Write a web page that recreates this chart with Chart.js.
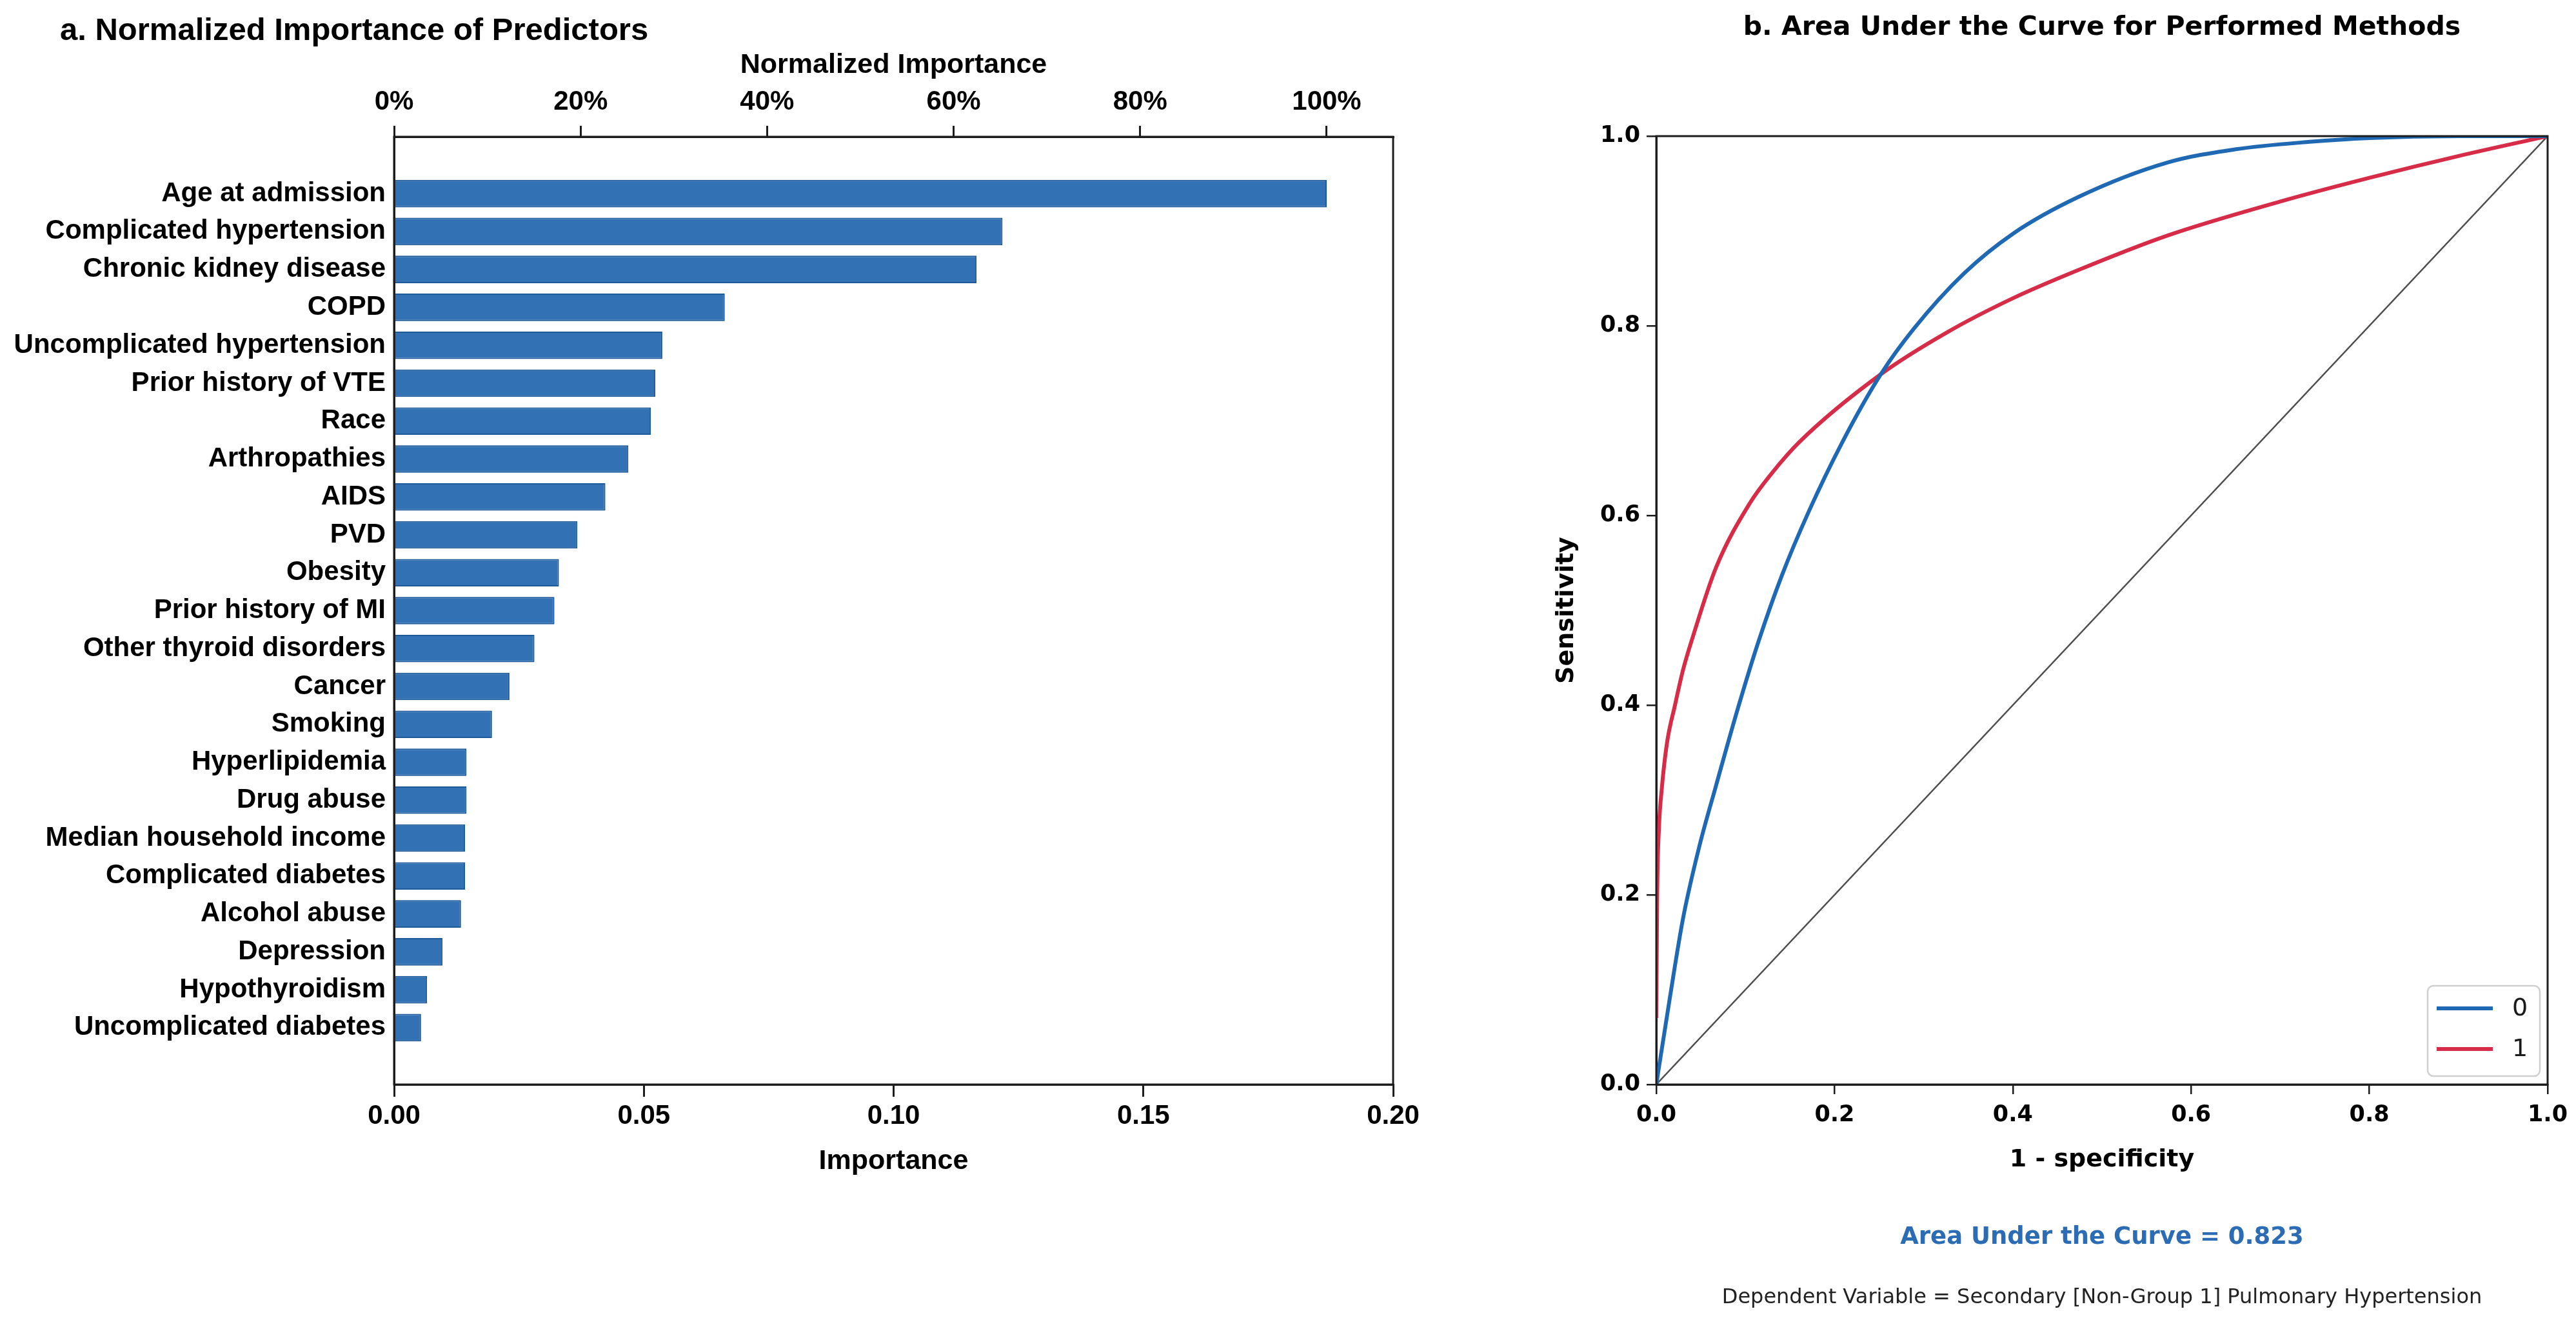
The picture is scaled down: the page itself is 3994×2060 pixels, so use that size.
<!DOCTYPE html>
<html>
<head>
<meta charset="utf-8">
<title>Normalized importance and ROC curve</title>
<script src="https://cdn.jsdelivr.net/npm/chart.js@4.4.1/dist/chart.umd.min.js"></script>
<style>
  html, body { margin: 0; padding: 0; background: #fff; }
  #wrap { position: relative; width: 3994px; height: 2060px; overflow: hidden; background: #fff; }
  canvas { position: absolute; top: 0; }
  #bar-chart { left: 0; }
  #roc-chart { left: 2250px; }
</style>
</head>
<body>
<div id="wrap">
  <canvas id="bar-chart" width="2250" height="2060"></canvas>
  <canvas id="roc-chart" width="1744" height="2060"></canvas>
</div>
<script>
// panel a: importance of each predictor
const predictors = [
  'Age at admission', 'Complicated hypertension', 'Chronic kidney disease', 'COPD',
  'Uncomplicated hypertension', 'Prior history of VTE', 'Race', 'Arthropathies', 'AIDS',
  'PVD', 'Obesity', 'Prior history of MI', 'Other thyroid disorders', 'Cancer', 'Smoking',
  'Hyperlipidemia', 'Drug abuse', 'Median household income', 'Complicated diabetes',
  'Alcohol abuse', 'Depression', 'Hypothyroidism', 'Uncomplicated diabetes'
];
const importance = [
  0.1867, 0.1218, 0.1166, 0.0662, 0.0537, 0.0523, 0.0514, 0.0469, 0.0423,
  0.0367, 0.0330, 0.0321, 0.0281, 0.0231, 0.0196, 0.0145, 0.0145, 0.0142,
  0.0142, 0.0134, 0.0097, 0.0066, 0.0054
];

// panel b: ROC curves (1 - specificity, sensitivity)
const rocFpr0 = [0, 0.015, 0.030, 0.048, 0.067, 0.092, 0.115, 0.141, 0.171, 0.208, 0.252,
  0.289, 0.345, 0.400, 0.474, 0.573, 0.649, 0.733, 0.800, 0.900, 1.0];
const rocTpr0 = [0, 0.090, 0.175, 0.250, 0.315, 0.398, 0.468, 0.537, 0.604, 0.676, 0.749,
  0.797, 0.855, 0.897, 0.936, 0.972, 0.986, 0.994, 0.998, 1.0, 1.0];
const rocFpr1 = [0, 0.001, 0.003, 0.006, 0.012, 0.021, 0.030, 0.041, 0.067, 0.105, 0.130,
  0.160, 0.252, 0.326, 0.400, 0.474, 0.573, 0.700, 0.800, 0.900, 1.0];
const rocTpr1 = [0.07, 0.20, 0.27, 0.31, 0.36, 0.400, 0.437, 0.472, 0.545, 0.613, 0.645,
  0.677, 0.749, 0.793, 0.829, 0.859, 0.895, 0.931, 0.956, 0.979, 1.0];
const chanceLine = [0, 1];
const classLabels = ['0', '1'];
const aucValue = 0.823;

const LEFT_FONT = "'Liberation Sans', Arial, sans-serif";
const RIGHT_FONT = "'DejaVu Sans', sans-serif";
const AXIS = '#1c1c1c';
const BAR_FILL = '#3171b4';
const BAR_EDGE = '#1f5a98';
const BLUE = '#1f68b3';
const RED = '#d62c48';

// box round the plot area (right side has no axis of its own)
const framePlugin = {
  id: 'frame',
  afterDraw(chart) {
    const { ctx, chartArea: a } = chart;
    ctx.save();
    ctx.strokeStyle = AXIS;
    ctx.lineWidth = 3;
    ctx.strokeRect(a.left, a.top, a.right - a.left, a.bottom - a.top);
    ctx.restore();
  }
};

function textPlugin(items) {
  return {
    id: 'panelText',
    afterDraw(chart) {
      const { ctx, chartArea } = chart;
      const cx = (chartArea.left + chartArea.right) / 2;
      ctx.save();
      ctx.textBaseline = 'middle';
      for (const t of items) {
        ctx.font = t.font;
        ctx.fillStyle = t.color;
        ctx.textAlign = t.align || 'center';
        ctx.fillText(t.text, t.x == null ? cx : t.x, t.y);
      }
      ctx.restore();
    }
  };
}

const rocLegend = {
  id: 'rocLegend',
  afterDraw(chart) {
    const { ctx, chartArea: a } = chart;
    const w = 174, h = 140;
    const x = a.right - 12 - w, y = a.bottom - 13 - h;
    ctx.save();
    ctx.fillStyle = 'rgba(255,255,255,0.85)';
    ctx.strokeStyle = '#cfcfcf';
    ctx.lineWidth = 2.5;
    ctx.beginPath();
    ctx.roundRect(x, y, w, h, 9);
    ctx.fill();
    ctx.stroke();
    ctx.font = `38px ${RIGHT_FONT}`;
    ctx.textAlign = 'left';
    ctx.textBaseline = 'middle';
    chart.data.datasets.slice(0, 2).forEach((ds, i) => {
      const ly = y + 35 + i * 63;
      ctx.strokeStyle = ds.borderColor;
      ctx.lineWidth = 6;
      ctx.beginPath();
      ctx.moveTo(x + 14, ly);
      ctx.lineTo(x + 101, ly);
      ctx.stroke();
      ctx.fillStyle = '#1a1a1a';
      ctx.fillText(ds.label, x + 131, ly + 1);
    });
    ctx.restore();
  }
};

// ---- panel a ----
const padLabels = ['', ...predictors, ''];
const padValues = [null, ...importance, null];
const maxImportance = Math.max(...importance);

const leftTick = { family: LEFT_FONT, size: 42, weight: 'bold' };
const leftTitle = { family: LEFT_FONT, size: 43, weight: 'bold' };

new Chart(document.getElementById('bar-chart'), {
  type: 'bar',
  data: {
    labels: padLabels,
    datasets: [{
      data: padValues,
      backgroundColor: BAR_FILL,
      borderColor: BAR_EDGE,
      borderWidth: 2,
      barPercentage: 0.725,
      categoryPercentage: 1,
      xAxisID: 'x',
      yAxisID: 'y'
    }]
  },
  options: {
    indexAxis: 'y',
    responsive: false,
    animation: false,
    devicePixelRatio: 1,
    layout: { padding: { left: 0, right: 90, top: 0, bottom: 234 } },
    plugins: { legend: { display: false }, tooltip: { enabled: false } },
    scales: {
      y: {
        type: 'category',
        position: 'left',
        grid: { display: false, drawTicks: false },
        border: { display: true, color: AXIS, width: 3 },
        ticks: { autoSkip: false, padding: 13, color: '#000', font: leftTick },
        afterFit(s) { s.width = 611; }
      },
      x: {
        type: 'linear',
        position: 'bottom',
        min: 0,
        max: 0.2,
        grid: { display: true, drawOnChartArea: false, tickLength: 19, color: AXIS, lineWidth: 3 },
        border: { display: true, color: AXIS, width: 3 },
        ticks: { stepSize: 0.05, padding: 5, color: '#000', font: leftTick, callback: v => v.toFixed(2) },
        title: { display: true, text: 'Importance', color: '#000', font: leftTitle, padding: { top: 0, bottom: 0 } },
        afterFit(s) { s.height = 145; }
      },
      x2: {
        type: 'linear',
        position: 'top',
        min: 0,
        max: 0.2 / maxImportance * 100,
        grid: { display: true, drawOnChartArea: false, tickLength: 17, color: AXIS, lineWidth: 3 },
        border: { display: true, color: AXIS, width: 3 },
        ticks: { stepSize: 20, includeBounds: false, padding: 11, color: '#000', font: leftTick, callback: v => v + '%' },
        title: { display: true, text: 'Normalized Importance', color: '#000', font: leftTitle, padding: { top: 75, bottom: 0 } },
        afterFit(s) { s.height = 212; }
      }
    }
  },
  plugins: [framePlugin, textPlugin([
    { text: 'a. Normalized Importance of Predictors', x: 93, y: 48, align: 'left',
      font: `bold 49px ${LEFT_FONT}`, color: '#000' }
  ])]
});

// ---- panel b ----
const toPoints = (xs, ys) => xs.map((x, i) => ({ x, y: ys[i] }));
const rightTick = { family: RIGHT_FONT, size: 35, weight: 'bold' };
const rightTitle = { family: RIGHT_FONT, size: 38, weight: 'bold' };

new Chart(document.getElementById('roc-chart'), {
  type: 'scatter',
  data: {
    datasets: [
      { label: classLabels[0], data: toPoints(rocFpr0, rocTpr0), showLine: true,
        borderColor: BLUE, borderWidth: 6, pointRadius: 0, cubicInterpolationMode: 'monotone' },
      { label: classLabels[1], data: toPoints(rocFpr1, rocTpr1), showLine: true,
        borderColor: RED, borderWidth: 6, pointRadius: 0, cubicInterpolationMode: 'monotone' },
      { label: 'reference', data: toPoints(chanceLine, chanceLine), showLine: true,
        borderColor: '#4d4d4d', borderWidth: 2.5, pointRadius: 0 }
    ]
  },
  options: {
    responsive: false,
    animation: false,
    devicePixelRatio: 1,
    layout: { padding: { left: 0, right: 44, top: 211, bottom: 239 } },
    plugins: { legend: { display: false }, tooltip: { enabled: false } },
    scales: {
      x: {
        type: 'linear',
        position: 'bottom',
        min: 0,
        max: 1,
        grid: { display: true, drawOnChartArea: false, tickLength: 15, color: AXIS, lineWidth: 2.5 },
        border: { display: true, color: AXIS, width: 3 },
        ticks: { stepSize: 0.2, padding: 12, color: '#000', font: rightTick, callback: v => v.toFixed(1) },
        title: { display: true, text: '1 - specificity', color: '#000', font: rightTitle, padding: { top: 0, bottom: 0 } },
        afterFit(s) { s.height = 140; }
      },
      y: {
        type: 'linear',
        position: 'left',
        min: 0,
        max: 1,
        grid: { display: true, drawOnChartArea: false, tickLength: 15, color: AXIS, lineWidth: 2.5 },
        border: { display: true, color: AXIS, width: 3 },
        ticks: { stepSize: 0.2, padding: 10, color: '#000', font: rightTick, callback: v => v.toFixed(1) },
        title: { display: true, text: 'Sensitivity', color: '#000', font: rightTitle, padding: { top: 156, bottom: 0 } },
        afterFit(s) { s.width = 318; }
      }
    }
  },
  plugins: [framePlugin, rocLegend, textPlugin([
    { text: 'b. Area Under the Curve for Performed Methods', y: 43,
      font: `bold 41px ${RIGHT_FONT}`, color: '#000' },
    { text: `Area Under the Curve = ${aucValue.toFixed(3)}`, y: 1918,
      font: `bold 37px ${RIGHT_FONT}`, color: '#2b6cb5' },
    { text: 'Dependent Variable = Secondary [Non-Group 1] Pulmonary Hypertension', y: 2012,
      font: `32px ${RIGHT_FONT}`, color: '#222' }
  ])]
});
</script>
</body>
</html>
